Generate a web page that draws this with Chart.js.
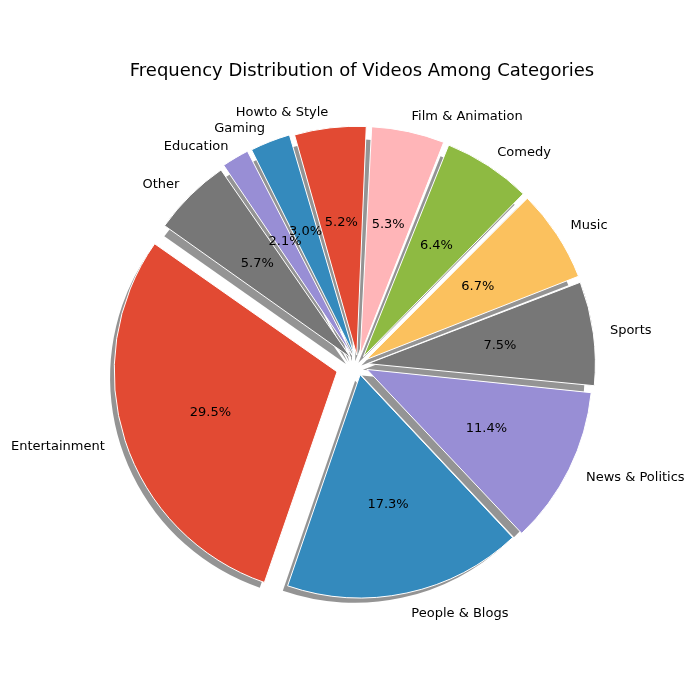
<!DOCTYPE html>
<html>
<head>
<script src="https://cdn.jsdelivr.net/npm/chart.js@4"></script>
<style>body{margin:0;background:#fff}#wrap{width:700px;height:700px}</style>
</head>
<body>
<div id="wrap"><canvas id="pie"></canvas></div>
<script>
// data in matplotlib (counter-clockwise) order
const categories = ["Entertainment", "People & Blogs", "News & Politics", "Sports", "Music", "Comedy",
    "Film & Animation", "Howto & Style", "Gaming", "Education", "Other"];
const shares = [29.5, 17.3, 11.4, 7.5, 6.7, 6.4, 5.3, 5.2, 3.0, 2.1, 5.7];
const colours = ["#E24A33", "#348ABD", "#988ED5", "#777777", "#FBC15E", "#8EBA42",
    "#FFB5B8", "#E24A33", "#348ABD", "#988ED5", "#777777"];
const explode = [22, 10, 10, 10, 10, 10, 10, 10, 10, 10, 10];

// chart.js goes clockwise, so reverse everything
const labels = [categories[0]].concat(categories.slice(1).reverse());
const values = [shares[0]].concat(shares.slice(1).reverse());
const bg = [colours[0]].concat(colours.slice(1).reverse());
const offs = [explode[0]].concat(explode.slice(1).reverse());

const FONT = "'DejaVu Sans', sans-serif";

// shadow + labels + title drawn by hand
const piePlugin = {
    id: "piePlugin",
    beforeDatasetsDraw(chart) {
        const ctx = chart.ctx;
        const arcs = chart.getDatasetMeta(0).data;
        ctx.save();
        ctx.fillStyle = "rgba(0,0,0,0.42)";
        arcs.forEach((a, i) => {
            const mid = (a.startAngle + a.endAngle) / 2;
            const cx = a.x + Math.cos(mid) * offs[i] - 5;
            const cy = a.y + Math.sin(mid) * offs[i] + 6;
            ctx.beginPath();
            ctx.moveTo(cx, cy);
            ctx.arc(cx, cy, a.outerRadius, a.startAngle, a.endAngle);
            ctx.closePath();
            ctx.fill();
        });
        ctx.restore();
    },
    afterDatasetsDraw(chart) {
        const ctx = chart.ctx;
        const arcs = chart.getDatasetMeta(0).data;
        ctx.save();
        ctx.fillStyle = "#000";
        ctx.font = "13px " + FONT;
        arcs.forEach((a, i) => {
            const mid = (a.startAngle + a.endAngle) / 2;
            const cx = a.x + Math.cos(mid) * offs[i];
            const cy = a.y + Math.sin(mid) * offs[i];
            const r = a.outerRadius;
            ctx.textAlign = "center";
            ctx.textBaseline = "middle";
            ctx.fillText(values[i].toFixed(1) + "%", cx + Math.cos(mid) * r * 0.6, cy + Math.sin(mid) * r * 0.6);
            const lx = cx + Math.cos(mid) * r * 1.1, ly = cy + Math.sin(mid) * r * 1.1;
            ctx.textAlign = Math.cos(mid) >= 0 ? "left" : "right";
            ctx.fillText(labels[i], lx, ly);
        });
        ctx.font = "18px " + FONT;
        ctx.textAlign = "center";
        ctx.fillText("Frequency Distribution of Videos Among Categories", 362, 71);
        ctx.restore();
    }
};

const pieCtx = document.getElementById("pie").getContext("2d");
const pieChart = new Chart(pieCtx, {
    type: "pie",
    data: {
        labels: labels,
        datasets: [{
            data: values,
            backgroundColor: bg,
            borderColor: "#fff",
            borderWidth: 1,
            offset: offs.map(o => o * 4), // arc element divides offset by 4
            hoverOffset: 0
        }]
    },
    options: {
        responsive: true,
        maintainAspectRatio: false,
        animation: false,
        rotation: 199,
        radius: 222,
        layout: { padding: { left: 108, right: 92, top: 115, bottom: 85 } },
        plugins: { legend: { display: false }, tooltip: { enabled: false } }
    },
    plugins: [piePlugin]
});
</script>
</body>
</html>
